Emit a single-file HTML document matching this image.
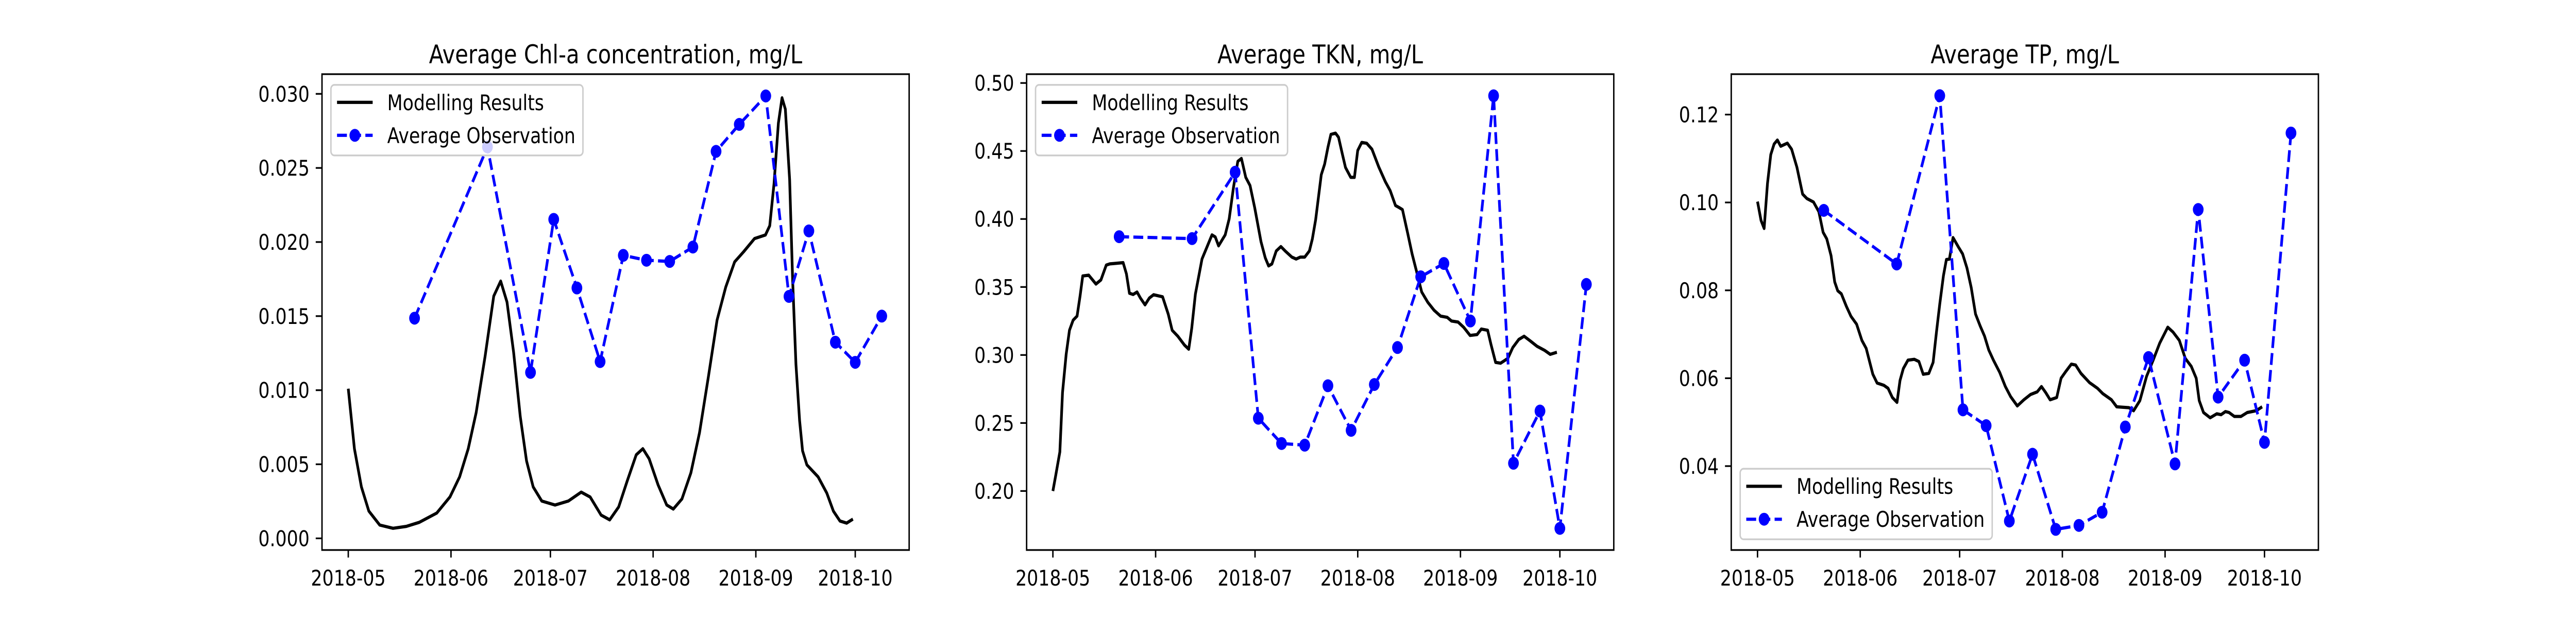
<!DOCTYPE html>
<html><head><meta charset="utf-8"><style>
html,body{margin:0;padding:0;background:#fff;width:100%;height:100%;overflow:hidden}
svg{display:block;position:absolute;left:0;top:0;width:100vw;height:100vh}
text{font-family:"DejaVu Sans","Liberation Sans",sans-serif;fill:#000}
</style></head><body>
<svg id="fig" viewBox="0 0 6000 1200" preserveAspectRatio="none" xmlns="http://www.w3.org/2000/svg"></svg>
<script>
// Day offsets relative to 2018-05-01
const obsDays = [20,42,55,62,69,76,83,90,97,104,111,118,126,133,139,147,153,161];
const chlObs = [0.01486,0.02642,0.0112,0.02153,0.0169,0.01193,0.0191,0.01877,0.01869,0.01966,0.02612,0.02794,0.02986,0.01633,0.02075,0.01324,0.01188,0.015];
const tknObs = [0.387,0.3856,0.4344,0.2535,0.2349,0.2337,0.2774,0.2446,0.2783,0.3055,0.3575,0.3673,0.325,0.4906,0.2204,0.2588,0.1725,0.3519];
const tpObs = [0.0982,0.086,0.1243,0.0528,0.0492,0.0275,0.0427,0.0256,0.0265,0.0295,0.0489,0.0647,0.0405,0.0984,0.0557,0.0641,0.0454,0.1158];
const chlModelDays = [0,1.85,3.97,6.2,9.5,13.5,17.5,21.4,26.7,30.7,33.6,36.2,38.6,41.3,43.9,46,47.9,49.9,51.9,53.8,55.8,58.4,62.4,66.4,70.3,73,76.3,78.9,81.6,84.2,86.9,88.9,90.8,93.5,96.1,98.1,100.7,103.4,106,108.7,111.3,113.9,116.6,119.3,122.6,125.9,127.2,128.5,129.8,130.9,131.9,133.2,134.1,135.1,136.2,137.1,138.4,141.8,144.4,146.4,148.4,150.4,152.3];
const chlModel = [0.0101,0.00605,0.00347,0.00184,0.0009,0.00068,0.00081,0.00108,0.00171,0.0028,0.00415,0.00605,0.00849,0.01229,0.01635,0.01736,0.01595,0.01256,0.00822,0.00523,0.00347,0.00252,0.00225,0.00252,0.00312,0.00279,0.00157,0.00125,0.00212,0.00388,0.00564,0.00605,0.00537,0.00361,0.00225,0.00198,0.00266,0.00442,0.00713,0.01093,0.01473,0.01695,0.01866,0.01934,0.02023,0.02048,0.0211,0.02395,0.02802,0.02973,0.02897,0.02422,0.01744,0.01175,0.00795,0.00591,0.00496,0.00415,0.00306,0.00184,0.00117,0.00103,0.0013];
const tknModelDays = [0,0.9,2.1,2.9,4,5,6.1,7.3,8.2,9,10.8,13,14.5,16.1,17.2,21.2,22.2,23.1,24.2,25.4,26.4,27.8,29.1,30.4,33.1,34.8,36,37.7,39.7,41,41.9,43,45,46.3,48,49,50,52,53.2,54.5,55.8,56.9,58.2,59.5,60.9,62.8,64.1,65.1,66.1,67.4,68.8,70.1,72.1,73.4,74.7,76,77.4,78.3,79.3,81,82,83,83.9,85.3,86.2,87.3,88.3,89.9,91,92,93.2,94.7,96.3,98.3,100.3,101.8,103.4,104.5,105.5,107.1,108.4,109.8,111.3,113.1,115,117,119,120.3,122.3,124,125.9,128,129.3,131.2,132.2,133.6,135.1,137.3,138.8,140.6,142.2,144.1,146.1,148.4,150.1,152.1];
const tknModel = [0.2,0.212,0.2287,0.2724,0.3005,0.3182,0.3256,0.3286,0.3434,0.3581,0.3587,0.3522,0.3552,0.3661,0.367,0.3679,0.3596,0.3454,0.3445,0.3463,0.3419,0.3369,0.3419,0.3443,0.3428,0.3301,0.3182,0.3138,0.3073,0.3043,0.3197,0.3448,0.3706,0.3782,0.3883,0.3868,0.3803,0.3883,0.4001,0.4232,0.4424,0.4445,0.4306,0.4246,0.4084,0.3833,0.3714,0.3655,0.367,0.3765,0.3797,0.3765,0.372,0.3706,0.372,0.372,0.3765,0.3853,0.3995,0.4326,0.4403,0.4527,0.4622,0.4631,0.4601,0.4483,0.4379,0.4306,0.4306,0.4504,0.4563,0.4557,0.4513,0.4385,0.4276,0.4208,0.4099,0.4084,0.4069,0.3892,0.3744,0.361,0.3463,0.3389,0.333,0.3286,0.3277,0.325,0.3242,0.3203,0.3144,0.315,0.3191,0.3182,0.3079,0.2946,0.294,0.2975,0.3055,0.3114,0.3138,0.3103,0.3064,0.3034,0.3005,0.302];
const tpModelDays = [0,1.06,2,3,4,5,6,7,9,10.3,11.9,13.6,14.9,16.9,18.5,19.8,20.9,22.2,23.3,24.2,25.3,26.8,28.2,29.9,31.5,32.8,34.8,36.1,38.1,39.4,40.7,42.1,43,44,45.4,47.3,48.7,50,51.7,53,54,55,56.1,57,57.9,59,60.6,61.9,63.2,64.5,65.8,67.2,68.5,69.8,71.2,73.1,74.8,76.4,78.4,80.4,82.4,84.4,85.7,87,88.3,90.3,91.6,93,94.7,96,97.6,100.2,102.6,104.2,106.8,108.4,110.2,112.1,113.5,115.4,117.4,119.4,121.4,123.8,125.4,127.3,129.1,130.9,132.4,133.3,134.6,136.6,138.6,139.9,141.2,142.3,143.9,145.9,147.8,150.5,152.3];
const tpModel = [0.1002,0.0959,0.0941,0.1043,0.1109,0.1133,0.1142,0.1128,0.1135,0.1121,0.108,0.1019,0.1009,0.1001,0.0979,0.0932,0.0917,0.0879,0.0819,0.0799,0.0792,0.0764,0.0741,0.0723,0.0686,0.0668,0.0609,0.0589,0.0584,0.0577,0.0556,0.0545,0.0595,0.0622,0.0641,0.0643,0.0638,0.0609,0.0611,0.0636,0.0705,0.0769,0.0833,0.087,0.0871,0.092,0.0899,0.0883,0.0851,0.0806,0.0746,0.0719,0.0696,0.0664,0.0641,0.0613,0.0581,0.0558,0.0537,0.0551,0.0563,0.0569,0.0581,0.0567,0.0551,0.0556,0.06,0.0615,0.0632,0.063,0.0611,0.059,0.0577,0.0565,0.0551,0.0535,0.0534,0.0533,0.0526,0.0549,0.0604,0.0641,0.068,0.0716,0.0705,0.0686,0.0645,0.0627,0.06,0.0549,0.0522,0.051,0.0519,0.0517,0.0524,0.0522,0.0513,0.0513,0.0522,0.0526,0.0535];
const xTickDays = [0,31,61,92,123,153];
const xTickLabels = ["2018-05","2018-06","2018-07","2018-08","2018-09","2018-10"];
const chlTicks = [0,0.005,0.01,0.015,0.02,0.025,0.03];
const chlTickLabels = ["0.000","0.005","0.010","0.015","0.020","0.025","0.030"];
const tknTicks = [0.2,0.25,0.3,0.35,0.4,0.45,0.5];
const tknTickLabels = ["0.20","0.25","0.30","0.35","0.40","0.45","0.50"];
const tpTicks = [0.04,0.06,0.08,0.10,0.12];
const tpTickLabels = ["0.04","0.06","0.08","0.10","0.12"];

const NS = "http://www.w3.org/2000/svg";
const fig = document.getElementById('fig');
function mk(tag, attrs, parent){
  const e = document.createElementNS(NS, tag);
  for (const k in attrs) e.setAttribute(k, attrs[k]);
  (parent||fig).appendChild(e);
  return e;
}
const TOP = 144, BOT = 1068, FS = 41.7;
const XMIN = -7.93, XMAX = 169.27;

function panel(cfg){
  const g = mk('g', {});
  
  
  const L = cfg.left, R = cfg.left + 1367.6;
  const xs = d => L + (d - XMIN) / (XMAX - XMIN) * (R - L);
  const ys = v => BOT - (v - cfg.ymin) / (cfg.ymax - cfg.ymin) * (BOT - TOP);
  const clipId = 'clip-' + cfg.name;
  const cp = mk('clipPath', {id: clipId}, g);
  mk('rect', {x: L, y: TOP, width: R - L, height: BOT - TOP}, cp);
  let d = '';
  cfg.mDays.forEach((t, i) => { d += (i ? 'L' : 'M') + xs(t).toFixed(1) + ',' + ys(cfg.mVals[i]).toFixed(1); });
  const ml = mk('path', {d: d, fill: 'none', stroke: '#000', 'stroke-width': 6.25, 'stroke-linejoin': 'round', 'clip-path': 'url(#' + clipId + ')'}, g);
  
  
  let d2 = '';
  obsDays.forEach((t, i) => { d2 += (i ? 'L' : 'M') + xs(t).toFixed(1) + ',' + ys(cfg.obs[i]).toFixed(1); });
  const ol = mk('path', {d: d2, fill: 'none', stroke: '#0000ff', 'stroke-width': 6.25, 'stroke-dasharray': '23,10', 'clip-path': 'url(#' + clipId + ')'}, g);
  
  
  obsDays.forEach((t, i) => {
    const c = mk('circle', {cx: xs(t), cy: ys(cfg.obs[i]), r: 12.5, fill: '#0000ff'}, g);
    
    
  });
  const sp = mk('rect', {x: L, y: TOP, width: R - L, height: BOT - TOP, fill: 'none', stroke: '#000', 'stroke-width': 3.3}, g);
  
  
  xTickDays.forEach((t, i) => {
    const x = xs(t);
    mk('line', {x1: x, x2: x, y1: BOT, y2: BOT + 14.6, stroke: '#000', 'stroke-width': 3.3}, g);
    const tx = mk('text', {x: x, y: BOT + 29 + 40, 'font-size': FS, 'text-anchor': 'middle'}, g);
    tx.textContent = xTickLabels[i];
    
    
  });
  cfg.ticks.forEach((v, i) => {
    const y = ys(v);
    mk('line', {x1: L - 14.6, x2: L, y1: y, y2: y, stroke: '#000', 'stroke-width': 3.3}, g);
    const tx = mk('text', {x: L - 29, y: y + 15, 'font-size': FS, 'text-anchor': 'end'}, g);
    tx.textContent = cfg.tickLabels[i];
    
    
  });
  const tt = mk('text', {x: (L + R) / 2, y: TOP - 21, 'font-size': 50, 'text-anchor': 'middle'}, g);
  tt.textContent = cfg.title;
  
  
  const lg = mk('g', {}, g);
  
  
  const bx = L + 20.8, bw = 587, bh = 137;
  const by = cfg.legendBottom ? BOT - 20.8 - bh : TOP + 20.8;
  mk('rect', {x: bx, y: by, width: bw, height: bh, rx: 8, fill: '#fff', 'fill-opacity': 0.8, stroke: '#cccccc', 'stroke-width': 3.3}, lg);
  const r1 = by + 34, r2 = by + 98;
  mk('line', {x1: L + 35, x2: L + 118, y1: r1, y2: r1, stroke: '#000', 'stroke-width': 6.25}, lg);
  mk('line', {x1: L + 35, x2: L + 118, y1: r2, y2: r2, stroke: '#0000ff', 'stroke-width': 6.25, 'stroke-dasharray': '23,10'}, lg);
  mk('circle', {cx: L + 76.5, cy: r2, r: 12.5, fill: '#0000ff'}, lg);
  const t1 = mk('text', {x: L + 152, y: r1 + 15, 'font-size': FS}, lg);
  t1.textContent = 'Modelling Results';
  
  
  const t2 = mk('text', {x: L + 152, y: r2 + 15, 'font-size': FS}, lg);
  t2.textContent = 'Average Observation';
  
  
}

panel({name: 'chla-chart', left: 750, ymin: -0.000787, ymax: 0.03133, mDays: chlModelDays, mVals: chlModel, obs: chlObs, ticks: chlTicks, tickLabels: chlTickLabels, title: 'Average Chl-a concentration, mg/L'});
panel({name: 'tkn-chart', left: 2391.2, ymin: 0.1566, ymax: 0.5065, mDays: tknModelDays, mVals: tknModel, obs: tknObs, ticks: tknTicks, tickLabels: tknTickLabels, title: 'Average TKN, mg/L'});
panel({name: 'tp-chart', left: 4032.4, ymin: 0.0209, ymax: 0.1292, mDays: tpModelDays, mVals: tpModel, obs: tpObs, ticks: tpTicks, tickLabels: tpTickLabels, title: 'Average TP, mg/L', legendBottom: true});
</script>
</body></html>
